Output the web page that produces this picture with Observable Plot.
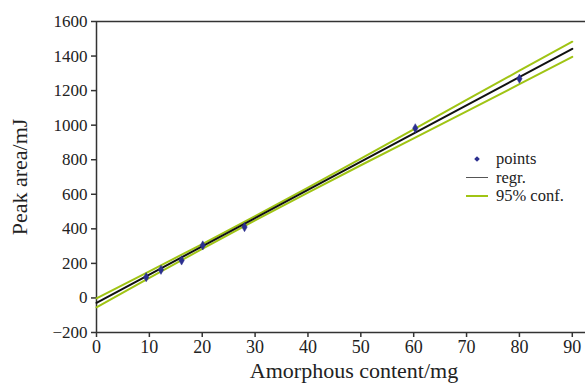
<!DOCTYPE html>
<html>
<head>
<meta charset="utf-8">
<script src="https://cdn.jsdelivr.net/npm/d3@7"></script>
<script src="https://cdn.jsdelivr.net/npm/@observablehq/plot@0.6"></script>
<style>
  body { margin: 0; background: #fff; }
  #wrap { position: relative; width: 585px; height: 383px; font-family: "Liberation Serif", "Times New Roman", serif; }
  #wrap svg, #wrap svg text { font-family: "Liberation Serif", "Times New Roman", serif !important; }
  #legend { position: absolute; left: 466px; top: 150px; font-size: 16.5px; line-height: 18.5px; color: #222; }
  .row { display: flex; align-items: center; height: 18.5px; }
  .sym { width: 22px; height: 18.5px; position: relative; margin-right: 8px; flex: none; }
  .sym .ln { position: absolute; left: 0; right: 0; top: 8px; height: 1.5px; }
  .sym .dt { position: absolute; left: 9px; top: 7px; width: 4px; height: 4px; background: #2b2f8f; transform: rotate(45deg); }
  .lab { display: inline-block; height: 18.5px; line-height: 18.5px; white-space: nowrap; }
</style>
</head>
<body>
<div id="wrap"></div>
<script>
// Data
const pointX = [9.4, 12.2, 16.1, 20.1, 28.0, 60.3, 80.0];
const pointY = [120, 163, 217, 304, 410, 982, 1269];
const regrX = [0, 90];
const regrY = [-28, 1442];
const confX = [0, 10, 20, 30, 40, 50, 60, 70, 80, 90];
const confUpper = [-2, 154, 312, 473, 638, 806, 976, 1146, 1315, 1483];
const confLower = [-54, 116, 284, 449, 610, 768, 924, 1080, 1237, 1395];
const xTicks = [0, 10, 20, 30, 40, 50, 60, 70, 80, 90];
const yTicks = [-200, 0, 200, 400, 600, 800, 1000, 1200, 1400, 1600];
const xLabel = "Amorphous content/mg";
const yLabel = "Peak area/mJ";
const legendItems = ["points", "regr.", "95% conf."];

const points = pointX.map((x, i) => ({x, y: pointY[i]}));
const regr = regrX.map((x, i) => ({x, y: regrY[i]}));
const upper = confX.map((x, i) => ({x, y: confUpper[i]}));
const lower = confX.map((x, i) => ({x, y: confLower[i]}));

const green = "#a0c414";
const navy = "#2b2f8f";
const axisColor = "#333";
const serif = "'Liberation Serif', 'Times New Roman', serif";

const chart = Plot.plot({
  width: 585,
  height: 383,
  marginLeft: 96,
  marginRight: 0,
  marginTop: 21,
  marginBottom: 51,
  style: {fontFamily: serif, fontSize: "18px", color: "#222", background: "#fff"},
  x: {domain: [0, 92.5]},
  y: {domain: [-200, 1600]},
  marks: [
    Plot.axisX({ticks: xTicks, tickSize: 5, tickPadding: 3, label: null, stroke: axisColor, strokeWidth: 1.5, fontFamily: serif, fontSize: 18}),
    Plot.axisY({ticks: yTicks, tickSize: 5, tickPadding: 4, label: null, stroke: axisColor, strokeWidth: 1.5, fontFamily: serif, fontSize: 17,
      tickFormat: d => d < 0 ? "\u2212" + Math.abs(d) : String(d)}),
    Plot.ruleY([1600], {stroke: axisColor, strokeWidth: 1.5}),
    Plot.ruleY([-200], {stroke: axisColor, strokeWidth: 1.5}),
    Plot.ruleX([0], {stroke: axisColor, strokeWidth: 1.5}),
    Plot.line(upper, {x: "x", y: "y", stroke: green, strokeWidth: 2}),
    Plot.line(lower, {x: "x", y: "y", stroke: green, strokeWidth: 2}),
    Plot.line(regr, {x: "x", y: "y", stroke: "#111", strokeWidth: 2}),
    Plot.dot(points, {x: "x", y: "y", symbol: "diamond", r: 2.8, fill: navy, stroke: navy, strokeWidth: 0.5}),
    Plot.text([yLabel], {text: d => d, frameAnchor: "left", textAnchor: "middle", rotate: -90, dx: -77, fontSize: 22, fontFamily: serif, lineAnchor: "middle", fill: "#222"}),
    Plot.text([xLabel], {text: d => d, frameAnchor: "bottom", textAnchor: "middle", dx: 13, dy: 38, fontSize: 22, fontFamily: serif, lineAnchor: "middle", fill: "#222"})
  ]
});

const wrap = document.getElementById("wrap");
wrap.appendChild(chart);

const legend = document.createElement("div");
legend.id = "legend";
const legendSyms = [
  '<span class="dt"></span>',
  '<span class="ln" style="background:#555"></span>',
  '<span class="ln" style="background:' + green + '"></span>'
];
legendItems.forEach((label, i) => {
  const row = document.createElement("div");
  row.className = "row";
  const sym = document.createElement("span");
  sym.className = "sym";
  sym.innerHTML = legendSyms[i];
  const txt = document.createElement("span");
  txt.className = "lab";
  txt.textContent = label;
  row.appendChild(sym);
  row.appendChild(txt);
  legend.appendChild(row);
});
wrap.appendChild(legend);
</script>
</body>
</html>
